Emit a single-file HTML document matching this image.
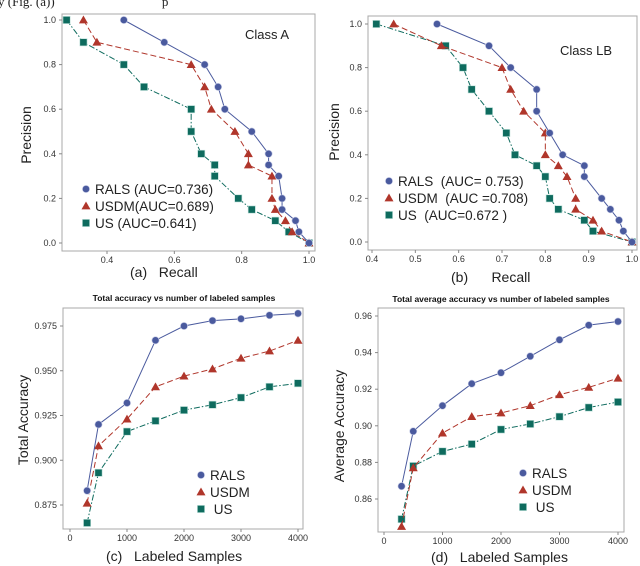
<!DOCTYPE html>
<html><head><meta charset="utf-8"><style>
html,body{margin:0;padding:0;background:#fff;}
svg{display:block;font-family:"Liberation Sans",sans-serif;}
svg text{white-space:pre;}
</style></head><body>
<svg id="fig" width="640" height="566" viewBox="0 0 640 566"></svg>
<script>
const recallTicks=[0.4,0.6,0.8,1.0];
const recallTicksB=[0.4,0.5,0.6,0.7,0.8,0.9,1.0];
const precTicks=[0.0,0.2,0.4,0.6,0.8,1.0];
const precLevels=[1.0,0.9,0.8,0.7,0.6,0.5,0.4,0.35,0.3,0.2,0.15,0.1,0.05,0.0];
const aRalsRecall=[0.45,0.57,0.69,0.73,0.75,0.83,0.88,0.88,0.91,0.92,0.92,0.96,0.97,1.0];
const aUsdmRecall=[0.33,0.37,0.65,0.69,0.71,0.78,0.82,0.82,0.89,0.89,0.90,0.93,0.95,1.0];
const aUsRecall=[0.28,0.33,0.45,0.51,0.65,0.65,0.68,0.72,0.72,0.79,0.83,0.90,0.94,1.0];
const bRalsRecall=[0.55,0.67,0.72,0.78,0.78,0.81,0.84,0.89,0.89,0.93,0.95,0.97,0.98,1.0];
const bUsdmRecall=[0.45,0.56,0.70,0.72,0.75,0.80,0.80,0.83,0.85,0.87,0.87,0.91,0.93,1.0];
const bUsRecall=[0.41,0.57,0.61,0.63,0.67,0.71,0.73,0.78,0.80,0.81,0.83,0.89,0.91,1.0];
const samples=[300,500,1000,1500,2000,2500,3000,3500,4000];
const sampleTicks=[0,1000,2000,3000,4000];
const cTicks=[0.875,0.900,0.925,0.950,0.975];
const cRals=[.883,.920,.932,.967,.975,.978,.979,.981,.982];
const cUsdm=[.876,.908,.923,.941,.947,.951,.957,.961,.967];
const cUs=[.865,.893,.916,.922,.928,.931,.935,.941,.943];
const dTicks=[0.86,0.88,0.90,0.92,0.94,0.96];
const dRals=[.867,.897,.911,.923,.929,.938,.947,.955,.957];
const dUsdm=[.845,.877,.896,.905,.907,.911,.917,.921,.926];
const dUs=[.849,.878,.886,.890,.898,.901,.905,.910,.913];

const NS="http://www.w3.org/2000/svg";
const svg=document.getElementById('fig');
const COL={rals:'#4a5a9e',usdm:'#b0362b',us:'#0e6b5e'};
const DASH={rals:'',usdm:'6,3',us:'6,2,1.5,2'};
function mk(tag,attrs,parent,text){const e=document.createElementNS(NS,tag);for(const k in attrs)e.setAttribute(k,attrs[k]);if(text!==undefined)e.textContent=text;(parent||svg).appendChild(e);return e;}
function scale(d0,d1,p0,p1){return v=>p0+(v-d0)*(p1-p0)/(d1-d0);}
function marker(g,kind,x,y,s){
  let m;
  if(kind==='rals'){m=mk('circle',{cx:x,cy:y,r:s*0.8,fill:COL.rals,stroke:'#c8cde6','stroke-width':0.6},g);}
  else if(kind==='usdm'){m=mk('polygon',{points:`${x},${y-s} ${x-s},${y+s*0.75} ${x+s},${y+s*0.75}`,fill:COL.usdm},g);}
  else{m=mk('rect',{x:x-s*0.8,y:y-s*0.8,width:s*1.6,height:s*1.6,fill:COL.us,stroke:'#bfe0da','stroke-width':0.6},g);}
  
  
}
function panel(o){
  const g=mk('g',{},svg);
  
  
  const fr=mk('rect',{x:o.fx0,y:o.fy0,width:o.fx1-o.fx0,height:o.fy1-o.fy0,fill:'#fff',stroke:'#a8a8a8','stroke-width':1},g);
  
  
  const sx=scale(o.xd[0],o.xd[1],o.xp[0],o.xp[1]);
  const sy=scale(o.yd[0],o.yd[1],o.yp[0],o.yp[1]);
  o.xticks.forEach(t=>{
    mk('line',{x1:sx(t),x2:sx(t),y1:o.fy1,y2:o.fy1+3,stroke:'#888'},g);
    const tx=mk('text',{x:sx(t),y:o.fy1+12,'font-size':9,'text-anchor':'middle',fill:'#333'},g,o.xfmt(t));
    
    
  });
  o.yticks.forEach(t=>{
    mk('line',{x1:o.fx0-3,x2:o.fx0,y1:sy(t),y2:sy(t),stroke:'#888'},g);
    const ty=mk('text',{x:o.fx0-6,y:sy(t)+3,'font-size':9,'text-anchor':'end',fill:'#333'},g,o.yfmt(t));
    
    
  });
  o.series.forEach(s=>{
    const pts=s.xs.map((x,i)=>sx(x)+','+sy(s.ys[i])).join(' ');
    const pl=mk('polyline',{points:pts,fill:'none',stroke:COL[s.k],'stroke-width':1,'stroke-dasharray':DASH[s.k]},g);
    
    
    s.xs.forEach((x,i)=>marker(g,s.k,sx(x),sy(s.ys[i]),4.5));
  });
  const yl=mk('text',{x:o.ylx,y:o.yly,'font-size':14,'text-anchor':'middle',fill:'#222',transform:`rotate(-90 ${o.ylx} ${o.yly})`},g,o.ylabel);
  
  
  const xl=mk('text',{x:o.xlx,y:o.xly,'font-size':14,fill:'#222'},g,o.xlabel);
  
  
  if(o.title){
    const ti=mk('text',{x:o.tx,y:o.ty,'font-size':8.5,'font-weight':'bold','text-anchor':'middle',fill:'#111'},g,o.title);
    
    
  }
  if(o.note){
    const n=mk('text',{x:o.nx,y:o.ny,'font-size':13,fill:'#222'},g,o.note);
    
    
  }
  o.legend.forEach((l,i)=>{
    const y=o.ly+i*o.lgap;
    marker(g,l.k,o.lx,y-4,4.5);
    const lt=mk('text',{x:o.lx+9,y:y+1,'font-size':13.5,fill:'#222'},g,l.t);
    
    
  });
}
const topCap=mk('text',{x:-2,y:6,'font-size':13,'font-family':'Liberation Serif',fill:'#222'},svg,'y (Fig. (a))                                 p');


const f2=v=>v.toFixed(1);
panel({name:'panel-a',fx0:62,fx1:315,fy0:14,fy1:251,xd:[0.4,1.0],xp:[107,309],yd:[0,1],yp:[243,20],
  xticks:recallTicks,yticks:precTicks,xfmt:f2,yfmt:f2,
  series:[{k:'us',xs:aUsRecall,ys:precLevels},{k:'usdm',xs:aUsdmRecall,ys:precLevels},{k:'rals',xs:aRalsRecall,ys:precLevels}],
  ylabel:'Precision',ylx:31,yly:135,xlabel:'(a)   Recall',xlx:130,xly:277,note:'Class A',nx:245,ny:39,
  legend:[{k:'rals',t:'RALS (AUC=0.736)'},{k:'usdm',t:'USDM(AUC=0.689)'},{k:'us',t:'US (AUC=0.641)'}],lx:86,ly:193,lgap:17});
panel({name:'panel-b',fx0:368,fx1:637,fy0:16,fy1:250,xd:[0.4,1.0],xp:[372,632],yd:[0,1],yp:[242,24],
  xticks:recallTicksB,yticks:precTicks,xfmt:f2,yfmt:f2,
  series:[{k:'us',xs:bUsRecall,ys:precLevels},{k:'usdm',xs:bUsdmRecall,ys:precLevels},{k:'rals',xs:bRalsRecall,ys:precLevels}],
  ylabel:'Precision',ylx:339,yly:132,xlabel:'(b)      Recall',xlx:451,xly:282,note:'Class LB',nx:560,ny:55,
  legend:[{k:'rals',t:'RALS  (AUC= 0.753)'},{k:'usdm',t:'USDM  (AUC =0.708)'},{k:'us',t:'US  (AUC=0.672 )'}],lx:389,ly:185,lgap:17});
panel({name:'panel-c',fx0:63,fx1:303,fy0:308,fy1:529,xd:[0,4000],xp:[70,298],yd:[0.875,0.975],yp:[505,326],
  xticks:sampleTicks,yticks:cTicks,xfmt:v=>String(v),yfmt:v=>v.toFixed(3),
  series:[{k:'us',xs:samples,ys:cUs},{k:'usdm',xs:samples,ys:cUsdm},{k:'rals',xs:samples,ys:cRals}],
  ylabel:'Total Accuracy',ylx:28,yly:420,xlabel:'(c)   Labeled Samples',xlx:106,xly:561,title:'Total accuracy vs number of labeled samples',tx:184,ty:301,
  legend:[{k:'rals',t:'RALS'},{k:'usdm',t:'USDM'},{k:'us',t:' US'}],lx:201,ly:479,lgap:17});
panel({name:'panel-d',fx0:378,fx1:624,fy0:308,fy1:532,xd:[0,4000],xp:[384,618],yd:[0.86,0.96],yp:[499,316],
  xticks:sampleTicks,yticks:dTicks,xfmt:v=>String(v),yfmt:v=>v.toFixed(2),
  series:[{k:'us',xs:samples,ys:dUs},{k:'usdm',xs:samples,ys:dUsdm},{k:'rals',xs:samples,ys:dRals}],
  ylabel:'Average Accuracy',ylx:344,yly:426,xlabel:'(d)   Labeled Samples',xlx:431,xly:562,title:'Total average accuracy vs number of labeled samples',tx:501,ty:302,
  legend:[{k:'rals',t:'RALS'},{k:'usdm',t:'USDM'},{k:'us',t:' US'}],lx:523,ly:477,lgap:17});
</script>
</body></html>
